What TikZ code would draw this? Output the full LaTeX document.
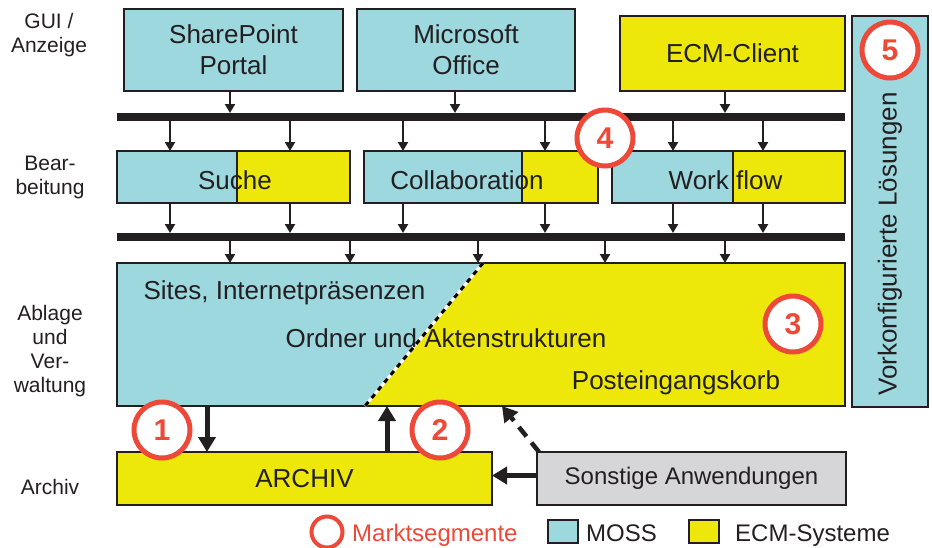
\documentclass[tikz,border=0pt]{standalone}
\usepackage{fontspec}
\setmainfont{Liberation Sans}
\usetikzlibrary{arrows.meta,calc}
\definecolor{cy}{RGB}{157,216,222}
\definecolor{ye}{RGB}{237,232,10}
\definecolor{gr}{RGB}{214,214,216}
\definecolor{mred}{RGB}{238,72,56}
\definecolor{txt}{RGB}{35,31,32}
\begin{document}
\begin{tikzpicture}[x=1pt,y=-1pt,
  box/.style={draw=txt, line width=2.5pt, inner sep=0pt, outer sep=0pt, text=txt,
    font=\fontsize{26}{31}\selectfont, align=center},
  bar/.style={fill=txt, inner sep=0pt, outer sep=0pt, minimum height=8pt, minimum width=728pt},
  arr/.style={draw=txt, line width=2.5pt, -{Triangle[width=10pt,length=9pt]}},
  bigarr/.style={draw=txt, line width=5pt, -{Triangle[width=17pt,length=15pt]}},
  seg/.style={circle, draw=mred, line width=5pt, fill=white, minimum size=56pt, inner sep=0pt,
    text=mred, font=\fontsize{30}{30}\selectfont\bfseries},
  lab/.style={text=txt, align=center, font=\fontsize{21}{24}\selectfont},
  inlab/.style={text=txt, font=\fontsize{26}{31}\selectfont},
  leg/.style={font=\fontsize{24}{28}\selectfont, anchor=base west, inner sep=0pt},
  legbox/.style={draw=txt, line width=1.5pt, minimum width=30pt, minimum height=23pt, inner sep=0pt},
]
\useasboundingbox (0,0) rectangle (932,547);

% left labels
\node[lab] (l1) at (49,35) {GUI /\\Anzeige};
\node[lab] (l2) at (50,177) {Bear-\\beitung};
\node[lab] (l3) at (50,351.5) {Ablage\\und\\Ver-\\waltung};
\node[lab] (l4) at (50,487) {Archiv};

% top row
\node[box, fill=cy, minimum width=219pt, minimum height=82pt] (sp) at (233.5,50) {SharePoint\\Portal};
\node[box, fill=cy, minimum width=218pt, minimum height=82pt] (ms) at (466,50) {Microsoft\\Office};
\node[box, fill=ye, minimum width=225pt, minimum height=75pt] (ecm) at (732.5,53.5) {ECM-Client};
\node[box, fill=cy, minimum width=76pt, minimum height=391pt] (vk) at (890,211.5) {};
\node[inlab, rotate=90] (vkt) at (890,244) {Vorkonfigurierte Lösungen};

% bars
\node[bar] (bar1) at (481,117) {};
\node[bar] (bar2) at (481,237) {};

% middle row
\node[box, fill=cy, minimum width=233pt, minimum height=52pt,
  path picture={\fill[ye] ([xshift=120pt]path picture bounding box.north west) rectangle (path picture bounding box.south east);}]
  (su) at (233.5,177) {};
\draw[draw=txt, line width=2.5pt] ([xshift=120pt]su.north west) -- ([xshift=120pt]su.south west);
\node[inlab] (sut) at (235,180) {Suche};

\node[box, fill=cy, minimum width=234pt, minimum height=52pt,
  path picture={\fill[ye] ([xshift=158pt]path picture bounding box.north west) rectangle (path picture bounding box.south east);}]
  (co) at (481,177) {};
\draw[draw=txt, line width=2.5pt] ([xshift=158pt]co.north west) -- ([xshift=158pt]co.south west);
\node[inlab] (cot) at (467,180) {Collaboration};

\node[box, fill=cy, minimum width=233pt, minimum height=52pt,
  path picture={\fill[ye] ([xshift=121pt]path picture bounding box.north west) rectangle (path picture bounding box.south east);}]
  (wf) at (728.5,177) {};
\draw[draw=txt, line width=2.5pt] ([xshift=121pt]wf.north west) -- ([xshift=121pt]wf.south west);
\node[inlab] (wft) at (725.5,180) {Work flow};

% Ablage
\node[box, fill=cy, minimum width=728pt, minimum height=143pt,
  path picture={\fill[ye] ([xshift=366pt]path picture bounding box.north west) -- (path picture bounding box.north east)
     -- (path picture bounding box.south east) -- ([xshift=248pt]path picture bounding box.south west) -- cycle;}]
  (ab) at (481,334.5) {};
\draw[white, line width=3pt] ([xshift=366pt]ab.north west) -- ([xshift=248pt]ab.south west);
\draw[black, line width=3pt, dash pattern=on 5pt off 5pt] ([xshift=366pt]ab.north west) -- ([xshift=248pt]ab.south west);
\node[inlab] (abt1) at (284.5,293) {Sites, Internetpräsenzen};
\node[inlab] (abt2) at (446,338) {Ordner und Aktenstrukturen};
\node[inlab] (abt3) at (676,383) {Posteingangskorb};

% bottom row
\node[box, fill=ye, minimum width=375pt, minimum height=53pt] (ar) at (304.5,478.5) {ARCHIV};
\node[box, fill=gr, minimum width=309pt, minimum height=53pt, font=\fontsize{24}{28}\selectfont] (so) at (691.5,478.5) {Sonstige Anwendungen};

% arrows top -> bar1
\draw[arr] ([xshift=-3.5pt]sp.south) -- ([xshift=-3.5pt]sp.south |- bar1.north);
\draw[arr] ([xshift=-11pt]ms.south) -- ([xshift=-11pt]ms.south |- bar1.north);
\draw[arr] ([xshift=-7.5pt]ecm.south) -- ([xshift=-7.5pt]ecm.south |- bar1.north);

% bar1 -> middle, middle -> bar2
\foreach \n/\d in {su/53, su/173, co/39, co/181, wf/61, wf/151}{
  \draw[arr] ([xshift=\d pt]\n.north west |- bar1.south) -- ([xshift=\d pt]\n.north west);
  \draw[arr] ([xshift=\d pt]\n.south west) -- ([xshift=\d pt]\n.south west |- bar2.north);
}
% bar2 -> Ablage
\foreach \d in {113, 233, 361, 488, 608}{
  \draw[arr] ([xshift=\d pt]ab.north west |- bar2.south) -- ([xshift=\d pt]ab.north west);
}

% thick arrows
\draw[bigarr] ([xshift=90pt]ab.south west) -- ([xshift=90pt]ab.south west |- ar.north);
\draw[bigarr] ([xshift=270pt]ar.north west) -- ([xshift=270pt]ar.north west |- ab.south);
\draw[bigarr] ([yshift=3pt]so.west) -- ([yshift=3pt]ar.east);
\draw[draw=txt, line width=4.5pt, dash pattern=on 12pt off 8pt, -{Triangle[width=17pt,length=15pt]}]
  ([xshift=2pt]so.north west) -- ([xshift=385pt]ab.south west);

% market segment circles
\node[seg] (m1) at (162,430) {1};
\node[seg] (m2) at (440,430) {2};
\node[seg] (m3) at (793,324) {3};
\node[seg] (m4) at (605,138) {4};
\node[seg] (m5) at (890,50) {5};

% legend
\node[circle, draw=mred, line width=4pt, minimum size=31pt, inner sep=0pt] (lc) at (327,532) {};
\node[leg, text=mred] (lct) at (352,541) {Marktsegmente};
\node[legbox, fill=cy] (lm) at (563,531.5) {};
\node[leg, text=txt] (lmt) at (586,541) {MOSS};
\node[legbox, fill=ye] (le) at (704,531.5) {};
\node[leg, text=txt] (let) at (735,541) {ECM-Systeme};
\end{tikzpicture}
\end{document}
